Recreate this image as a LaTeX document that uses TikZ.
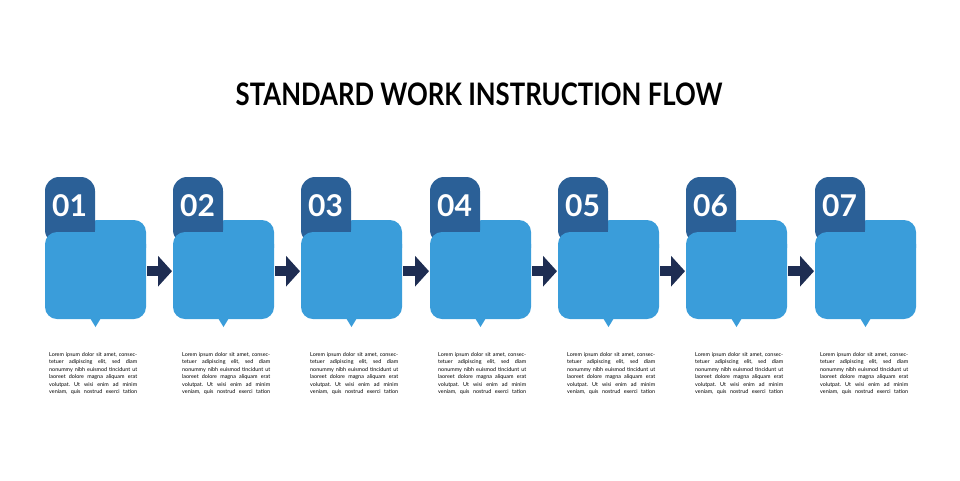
\documentclass[tikz,border=0pt]{standalone}
\usepackage{fontspec}
\setmainfont{Lato}
\usetikzlibrary{arrows.meta,calc}
\definecolor{tabblue}{HTML}{2B6097}
\definecolor{boxblue}{HTML}{3A9DDA}
\definecolor{navy}{HTML}{1E2D52}
\newcommand{\lorem}{%
\makebox[88pt][s]{Lorem ipsum dolor sit amet, consec-}\\
\makebox[88pt][s]{tetuer adipiscing elit, sed diam}\\
\makebox[88pt][s]{nonummy nibh euismod tincidunt ut}\\
\makebox[88pt][s]{laoreet dolore magna aliquam erat}\\
\makebox[88pt][s]{volutpat. Ut wisi enim ad minim}\\
\makebox[88pt][s]{veniam, quis nostrud exerci tation}}
\tikzset{
  tabfill/.style={fill=tabblue},
  boxfill/.style={fill=boxblue},
  boxnode/.style={minimum width=101pt,minimum height=99pt,inner sep=0pt,anchor=north west},
  numtext/.style={text=white,font=\fontsize{30}{30}\selectfont\bfseries,anchor=west,inner sep=0pt},
  bodytext/.style={font=\fontsize{5.4}{7.5}\selectfont\frenchspacing,text=black,anchor=north west,inner sep=0pt,align=left},
  flowarr/.style={draw=navy,line width=10pt,-{Triangle[length=14pt,width=30pt]}},
}
\begin{document}
\begin{tikzpicture}[x=1pt,y=-1pt]
\useasboundingbox (0,0) rectangle (960,480);
\node[font=\fontsize{31}{30}\selectfont\bfseries,inner sep=0pt] (title) at (479,94) {\scalebox{0.83}[1]{STANDARD WORK INSTRUCTION FLOW}};
\foreach \i/\x/\tx in {1/45/49,2/173/182,3/301/310,4/430/438,5/558/567,6/686/695,7/815/820}{
  \node[boxnode] (b\i) at (\x,220) {};
  % upper right part of light box
  \fill[boxfill,rounded corners=12pt] (\x+40,260) -- (\x+40,220) -- (\x+101,220) -- (\x+101,260) -- cycle;
  % tab
  \fill[tabfill,rounded corners=14pt] (\x,244) -- (\x,177) -- (\x+50,177) -- (\x+50,244) -- cycle;
  % main light box
  \fill[boxfill,rounded corners=12pt] (\x,232) rectangle (\x+101,319);
  % pointer
  \fill[boxfill] (\x+45,318) -- (\x+56,318) -- (\x+50.5,327) -- cycle;
  \node[numtext] (n\i) at (\x+7,206) {0\i};
  \node[bodytext] (t\i) at (\tx,352) {\lorem};
}
\foreach \i [evaluate=\i as \j using int(\i+1)] in {1,...,6}{
  \draw[flowarr] ([xshift=1pt,yshift=-1.5pt]b\i.east) -- ([xshift=-1pt,yshift=-1.5pt]b\j.west);
}
\end{tikzpicture}
\end{document}
